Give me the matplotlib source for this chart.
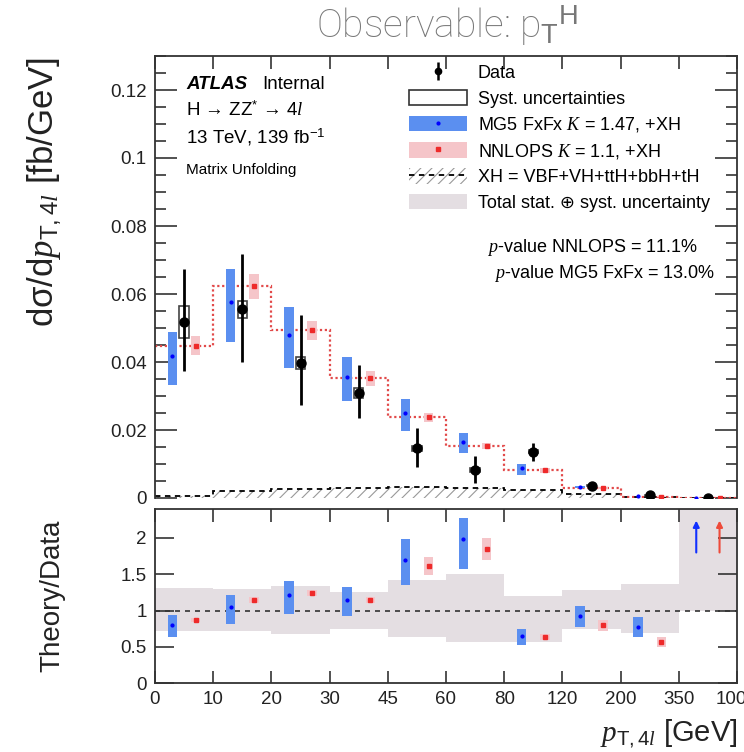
import numpy as np
import matplotlib
matplotlib.use('Agg')
import matplotlib.pyplot as plt
from matplotlib.patches import Patch, Rectangle
from matplotlib.lines import Line2D

plt.rcParams['font.family'] = ['Liberation Sans', 'DejaVu Sans']
plt.rcParams['mathtext.fontset'] = 'custom'
plt.rcParams['mathtext.rm'] = 'Liberation Sans'
plt.rcParams['mathtext.sf'] = 'Liberation Sans'
plt.rcParams['mathtext.it'] = 'Liberation Serif:italic'
plt.rcParams['mathtext.bf'] = 'Liberation Sans:bold'
plt.rcParams['hatch.linewidth'] = 0.8

# pT,4l bin edges [GeV]
bin_edges = ['0', '10', '20', '30', '45', '60', '80', '120', '200', '350', '1000']

# unfolded data [fb/GeV]
data = [0.0519, 0.0555, 0.0397, 0.0310, 0.0146, 0.0082, 0.0136, 0.0036, 0.00075, 0.00003]
data_up = [0.0156, 0.0164, 0.0140, 0.0082, 0.0061, 0.0041, 0.0027, 0.0006, 0.0003, 0.00005]
data_dn = [0.0145, 0.0154, 0.0124, 0.0074, 0.0054, 0.0038, 0.0028, 0.0006, 0.0003, 0.00003]
data_syst = [0.0047, 0.0025, 0.0018, 0.0015, 0.0007, 0.0005, 0.0004, 0.0002, 0.0001, 0.00001]

# predictions
mg5 = [0.0417, 0.0576, 0.0480, 0.0355, 0.0251, 0.0165, 0.0087, 0.0033, 0.00058, 0.00012]
mg5_lo = [0.0332, 0.0458, 0.0381, 0.0286, 0.0197, 0.0131, 0.0069, 0.0030, 0.00050, 0.00010]
mg5_hi = [0.0488, 0.0675, 0.0562, 0.0414, 0.0291, 0.0190, 0.0099, 0.0036, 0.00066, 0.00014]
nnlops = [0.0448, 0.0623, 0.0495, 0.0352, 0.0238, 0.0153, 0.0082, 0.0029, 0.00043, 0.00010]
nnlops_lo = [0.0420, 0.0586, 0.0466, 0.0330, 0.0224, 0.0143, 0.0074, 0.0027, 0.00038, 0.00008]
nnlops_hi = [0.0476, 0.0660, 0.0522, 0.0374, 0.0251, 0.0163, 0.0089, 0.0031, 0.00048, 0.00012]
xh = [0.0007, 0.0021, 0.0026, 0.0030, 0.0032, 0.0030, 0.0024, 0.0011, 0.0004, 0.0001]

# theory / data (nan = off scale)
ratio_mg5 = [0.80, 1.05, 1.21, 1.15, 1.70, 1.98, 0.65, 0.92, 0.77, np.nan]
ratio_mg5_lo = [0.64, 0.82, 0.95, 0.92, 1.35, 1.57, 0.52, 0.77, 0.64, np.nan]
ratio_mg5_hi = [0.94, 1.22, 1.41, 1.33, 1.99, 2.28, 0.75, 1.06, 0.91, np.nan]
ratio_nnlops = [0.87, 1.14, 1.24, 1.14, 1.62, 1.85, 0.63, 0.80, 0.57, np.nan]
ratio_nnlops_lo = [0.84, 1.10, 1.20, 1.10, 1.49, 1.69, 0.59, 0.72, 0.50, np.nan]
ratio_nnlops_hi = [0.90, 1.18, 1.28, 1.18, 1.74, 2.00, 0.67, 0.87, 0.64, np.nan]
ratio_tot_lo = [0.72, 0.72, 0.68, 0.75, 0.63, 0.56, 0.56, 0.74, 0.69, 1.0]
ratio_tot_hi = [1.31, 1.30, 1.34, 1.26, 1.42, 1.51, 1.20, 1.28, 1.37, 3.0]

BLUE = '#5b8ff0'
PINK = '#f5c5c9'
RED = '#ee2a2a'
GREY = '#e4dee2'

W, H = 744, 752


def fx(x):
    return x / W


def fy(y):
    return 1 - y / H


nb = len(data)
idx = np.arange(nb)
edges = np.arange(nb + 1)
bw = 0.16

fig = plt.figure(figsize=(W / 100, H / 100), dpi=100)
ax = fig.add_axes([fx(155), fy(498), (737 - 155) / W, (498 - 56) / H])
axr = fig.add_axes([fx(155), fy(683), (737 - 155) / W, (683 - 509) / H])

# ---- top panel ----
ax.stairs(xh, edges, fill=True, facecolor='none', edgecolor='#999999', hatch='///', lw=0, zorder=1)
ax.stairs(xh, edges, baseline=None, color='k', ls=(0, (3, 2.5)), lw=1.3, zorder=2)
ax.stairs(nnlops, edges, baseline=None, color='#e24a4a', ls=(0, (1, 1.2)), lw=1.6, zorder=2)

mg5 = np.array(mg5)
ax.bar(idx + 0.3, np.array(mg5_hi) - mg5_lo, bottom=mg5_lo, width=bw, color=BLUE, lw=0, zorder=3)
ax.plot(idx + 0.3, mg5, 'o', ms=2, color='#0000ff', zorder=4)
ax.bar(idx + 0.7, np.array(nnlops_hi) - nnlops_lo, bottom=nnlops_lo, width=bw, color=PINK, lw=0, zorder=3)
ax.plot(idx + 0.7, nnlops, 's', ms=3.5, color=RED, zorder=4)

data = np.array(data)
data_syst = np.array(data_syst)
ax.bar(idx + 0.5, 2 * data_syst, bottom=data - data_syst, width=bw, fill=False,
       edgecolor='#444444', lw=1.2, zorder=5)
ax.errorbar(idx + 0.5, data, yerr=[data_dn, data_up], fmt='o', color='k', ms=6.5,
            elinewidth=2.0, capsize=0, zorder=6)

ax.set_xlim(0, nb)
ax.set_ylim(0, 0.13)
ax.set_yticks(np.arange(0, 0.121, 0.02))
ax.set_yticklabels(['0', '0.02', '0.04', '0.06', '0.08', '0.1', '0.12'])
ax.set_yticks(np.arange(0, 0.131, 0.005), minor=True)
ax.set_xticks(edges)
ax.tick_params(axis='x', which='both', direction='in', top=True, bottom=False,
               labelbottom=False, length=9, width=1.2, color='#333333')
ax.tick_params(axis='y', which='major', direction='in', left=True, right=True,
               length=16, width=1.2, labelsize=13.5, pad=6, color='#333333', labelcolor='#222222')
ax.tick_params(axis='y', which='minor', direction='in', left=True, right=True,
               length=8, width=1.2, color='#333333')
for s in ['left', 'right', 'top']:
    ax.spines[s].set_linewidth(1.3)
    ax.spines[s].set_color('#333333')
ax.spines['bottom'].set_visible(False)

handles = [
    (Line2D([], [], marker='|', ms=13, mew=1.8, color='k', ls=''),
     Line2D([], [], marker='o', ms=4.5, color='k', ls='')),
    Rectangle((0, 0), 1, 1, facecolor='white', edgecolor='#333333', lw=1.2),
    (Patch(color=BLUE, lw=0), Line2D([], [], marker='o', ms=2, color='#0000ff', ls='')),
    (Patch(color=PINK, lw=0), Line2D([], [], marker='s', ms=3.5, color=RED, ls='')),
    (Patch(facecolor='none', edgecolor='#999999', hatch='///', lw=0),
     Line2D([], [], color='k', ls=(0, (3, 2.5)), lw=1.3)),
    Patch(color=GREY, lw=0),
]
labels = [
    'Data',
    'Syst. uncertainties',
    'MG5 FxFx $K$ = 1.47, +XH',
    'NNLOPS $K$ = 1.1, +XH',
    'XH = VBF+VH+ttH+bbH+tH',
    'Total stat. \u2295 syst. uncertainty',
]
ax.legend(handles, labels, loc='upper left', bbox_to_anchor=(fx(409), fy(64)),
          bbox_transform=fig.transFigure, frameon=False, fontsize=13,
          handlelength=3.2, handleheight=0.95, handletextpad=0.6, labelspacing=0.42,
          borderpad=0, borderaxespad=0)

fig.text(fx(186), fy(89), 'ATLAS', fontsize=13.5, fontweight='bold', fontstyle='italic')
fig.text(fx(262), fy(89), 'Internal', fontsize=13.5)
fig.text(fx(186), fy(116), 'H \u2192 ZZ$^{*}$ \u2192 4$l$', fontsize=13.5)
fig.text(fx(186), fy(143), '13 TeV, 139 fb$^{-1}$', fontsize=13.5)
fig.text(fx(186), fy(174), 'Matrix Unfolding', fontsize=11)
fig.text(fx(487), fy(252), '$p$-value NNLOPS = 11.1%', fontsize=13)
fig.text(fx(494), fy(278), '$p$-value MG5 FxFx = 13.0%', fontsize=13)

# ---- ratio panel ----
axr.stairs(ratio_tot_hi, edges, baseline=ratio_tot_lo, fill=True, color=GREY, lw=0, zorder=1)
axr.axhline(1, color='#333333', ls=(0, (3, 3)), lw=1.2, zorder=2)
r_lo = np.array(ratio_mg5_lo)
axr.bar(idx + 0.3, np.array(ratio_mg5_hi) - r_lo, bottom=r_lo, width=bw, color=BLUE, lw=0, zorder=3)
axr.plot(idx + 0.3, ratio_mg5, 'o', ms=2, color='#0000ff', zorder=4)
r_lo = np.array(ratio_nnlops_lo)
axr.bar(idx + 0.7, np.array(ratio_nnlops_hi) - r_lo, bottom=r_lo, width=bw, color=PINK, lw=0, zorder=3)
axr.plot(idx + 0.7, ratio_nnlops, 's', ms=3.5, color=RED, zorder=4)

# off-scale ratios shown as arrows
for i in idx:
    for off, val, col in [(0.3, ratio_mg5[i], '#1030ff'), (0.7, ratio_nnlops[i], '#ee4a3a')]:
        if np.isnan(val):
            axr.annotate('', xy=(i + off, 2.24), xytext=(i + off, 1.8),
                         arrowprops=dict(arrowstyle='-|>', color=col, lw=1.5,
                                         mutation_scale=9, shrinkA=0, shrinkB=0), zorder=5)

axr.set_xlim(0, nb)
axr.set_ylim(0, 2.4)
axr.set_yticks([0, 0.5, 1, 1.5, 2])
axr.set_yticklabels(['0', '0.5', '1', '1.5', '2'])
axr.set_xticks(edges)
axr.set_xticklabels(bin_edges)
axr.tick_params(axis='x', direction='in', top=True, bottom=True, length=9, width=1.2,
                labelsize=13.5, pad=6, color='#333333', labelcolor='#222222')
axr.tick_params(axis='y', direction='in', left=True, right=True, length=14, width=1.2,
                labelsize=13.5, pad=6, color='#333333', labelcolor='#222222')
for s in axr.spines.values():
    s.set_linewidth(1.3)
    s.set_color('#333333')

fig.text(fx(447), fy(38), 'Observable: p$_{\\mathrm{T}}$$^{\\mathrm{H}}$', ha='center', va='baseline',
         fontsize=28, color='#777777', family=['Roboto', 'Liberation Sans', 'DejaVu Sans'],
         fontweight='light')
fig.text(fx(44), fy(192), 'd\u03c3/d$p_{\\mathrm{T,4}l}$ [fb/GeV]', rotation=90,
         ha='center', va='center', fontsize=25, color='#222222')
fig.text(fx(52), fy(596), 'Theory/Data', rotation=90, ha='center', va='center',
         fontsize=20, color='#222222')
fig.text(fx(737), fy(741), '$p_{\\mathrm{T,4}l}$ [GeV]', ha='right', va='baseline',
         fontsize=21, color='#222222')

fig.savefig('out.png', dpi=100)
